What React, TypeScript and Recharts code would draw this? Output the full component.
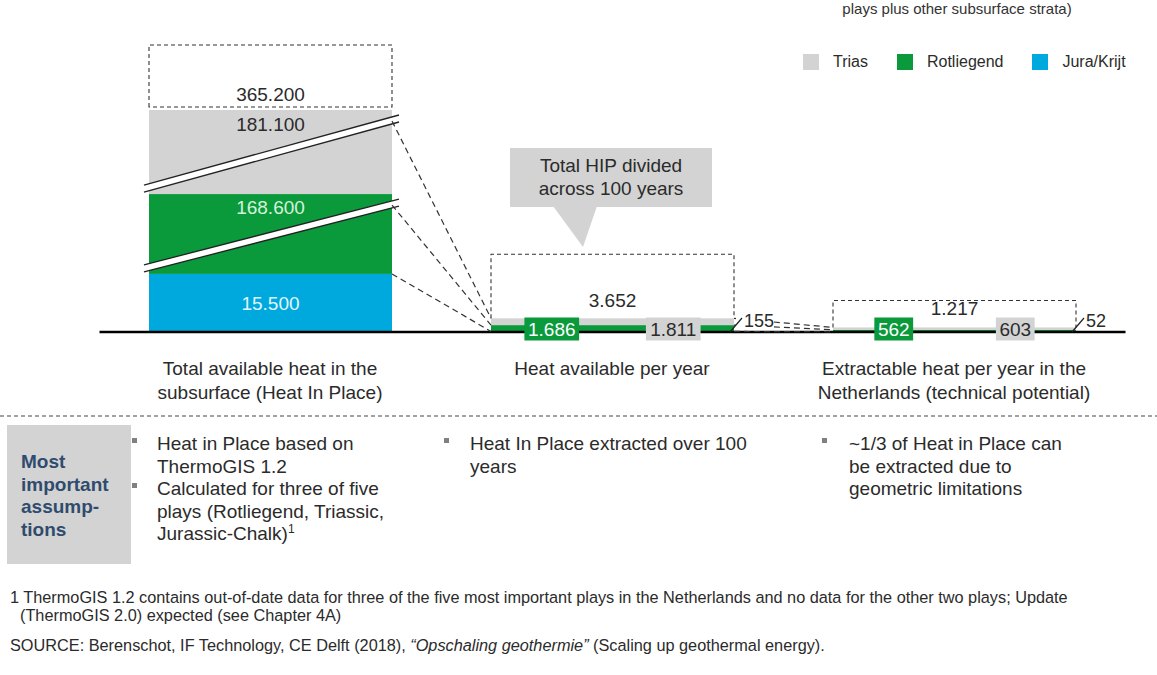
import React from 'react';
import { BarChart, Bar, XAxis, YAxis, Legend } from 'recharts';

// ─── Data (values as printed in the reference) ─────────────

const categories = [
  'Total available heat in the\nsubsurface (Heat In Place)',
  'Heat available per year',
  'Extractable heat per year in the\nNetherlands (technical potential)',
];
const juraKrijt = [15500, 155, 52];
const rotliegend = [168600, 1686, 562];
const trias = [181100, 1811, 603];
const totals = [365200, 3652, 1217];

const data = categories.map((name, i) => ({
  name,
  jura: juraKrijt[i],
  rot: rotliegend[i],
  trias: trias[i],
}));

// ─── Styling ─────────────────────────────

const FONT = '"Liberation Sans", Arial, Helvetica, sans-serif';
const INK = '#2b2b2b';
const GREY = '#d3d3d3';
const GREEN = '#0a9a3c';
const BLUE = '#00a9dd';
const W = 1157;
const H = 675;

// the first bar is drawn with a broken axis: everything above AXIS_BREAK is squeezed
const AXIS_BREAK = 16000;
const BREAK_SHARE = 0.27;

// dashed "total" boxes above each stack (px)
const BOXES = [
  { h: 62, gap: 3, dy: 9 },
  { h: 64, gap: 0, dy: 11 },
  { h: 27, gap: 0, dy: 12 },
];

const fmt = (v: number) => String(v).replace(/\B(?=(\d{3})+(?!\d))/g, '.');

// ─── Broken linear scale (d3-like) ─────────

function brokenScale(breakAt: number, share: number): any {
  let dom: number[] = [0, 1];
  let rng: number[] = [0, 1];
  const s: any = (v: number) => {
    const top = dom[1];
    const t =
      v <= breakAt
        ? (v / breakAt) * share
        : share + ((v - breakAt) / (top - breakAt)) * (1 - share);
    return rng[0] + (rng[1] - rng[0]) * t;
  };
  s.domain = (d?: any[]) => {
    if (d === undefined) return dom;
    dom = d.map(Number);
    return s;
  };
  s.range = (r?: number[]) => {
    if (r === undefined) return rng;
    rng = [...r];
    return s;
  };
  s.copy = () => brokenScale(breakAt, share).domain(dom).range(rng);
  s.ticks = () => [0, breakAt, dom[1]];
  s.tickFormat = () => (v: number) => String(v);
  return s;
}

// ─── Bar shapes ─────────────────────────

type Key = 'jura' | 'rot' | 'trias';
type Rect = { x: number; y: number; w: number; h: number };
const drawn: Record<Key, Rect[]> = { jura: [], rot: [], trias: [] };

function BreakMark({ x, y, w, h }: Rect) {
  const x0 = x - 5;
  const x1 = x + w + 7;
  const yl = y + h - 9;
  const yr = y + 5;
  const t = 7;
  return (
    <g>
      <polygon points={`${x0},${yl} ${x1},${yr} ${x1},${yr + t} ${x0},${yl + t}`} fill="#fff" />
      <line x1={x0} y1={yl} x2={x1} y2={yr} stroke="#222" strokeWidth={1.3} />
      <line x1={x0} y1={yl + t} x2={x1} y2={yr + t} stroke="#222" strokeWidth={1.3} />
    </g>
  );
}

function ValueBox({ cx, cy, text, fill, color }: { cx: number; cy: number; text: string; fill: string; color: string }) {
  const digits = text.replace(/\D/g, '').length;
  const w = digits * 10.6 + (text.length - digits) * 5.3 + 7;
  return (
    <g>
      <rect x={cx - w / 2} y={cy - 11.5} width={w} height={23} fill={fill} />
      <text x={cx} y={cy + 7} textAnchor="middle" fontSize={19} fill={color} fontFamily={FONT}>
        {text}
      </text>
    </g>
  );
}

function Overlay() {
  const keys: Key[] = ['jura', 'rot', 'trias'];
  const items: React.ReactNode[] = [];
  const first = drawn.trias[0];
  const last = drawn.trias[data.length - 1];
  const second = drawn.trias[1];

  // baseline along the category bands (drawn here so the value boxes can sit on top of it)
  if (first && last && second && drawn.jura[0]) {
    const band = second.x - first.x;
    const pad = (band - first.w) / 2;
    const y0 = drawn.jura[0].y + drawn.jura[0].h;
    items.push(
      <line key="axis" x1={first.x - pad} y1={y0} x2={last.x + last.w + pad} y2={y0} stroke="#000" strokeWidth={2.5} />
    );
  }

  // dashed connectors between neighbouring stacks
  for (let i = 1; i < data.length; i++) {
    keys.forEach((k) => {
      const p = drawn[k][i - 1];
      const c = drawn[k][i];
      if (!p || !c) return;
      const broken = i - 1 === 0 && k !== 'jura';
      items.push(
        <line
          key={`c${i}${k}`}
          x1={p.x + p.w}
          y1={p.y + (broken ? 11 : 0)}
          x2={c.x}
          y2={c.y}
          stroke="#333"
          strokeWidth={1.2}
          strokeDasharray="6 4"
        />
      );
    });
  }

  data.forEach((_, i) => {
    const t = drawn.trias[i];
    const g = drawn.rot[i];
    const b = drawn.jura[i];
    if (!t || !g || !b) return;
    const left = t.x;
    const right = t.x + t.w;
    const cx = left + t.w / 2;
    const top = t.y;
    const base = b.y + b.h;
    const bx = BOXES[i];
    const yb = top - bx.gap;
    const yt = yb - bx.h;
    const d = i === 0 ? `M${left},${yb} V${yt} H${right} V${yb} Z` : `M${left},${yb} V${yt} H${right} V${yb}`;

    items.push(
      <g key={`t${i}`}>
        <path d={d} fill="none" stroke="#333" strokeWidth={1.1} strokeDasharray="4 3" />
        <text x={cx} y={top - bx.dy} textAnchor="middle" fontSize={19} fill={INK} fontFamily={FONT}>
          {fmt(totals[i])}
        </text>
      </g>
    );

    if (i === 0) {
      items.push(
        <g key={`l${i}`} fontFamily={FONT} fontSize={19} textAnchor="middle">
          <text x={cx} y={t.y + 21} fill={INK}>{fmt(trias[i])}</text>
          <text x={cx} y={g.y + 20} fill="#d4f2d9">{fmt(rotliegend[i])}</text>
          <text x={cx} y={b.y + b.h / 2 + 7} fill="#e2f5fc">{fmt(juraKrijt[i])}</text>
        </g>
      );
    } else {
      items.push(
        <g key={`l${i}`}>
          <ValueBox cx={left + t.w / 4} cy={base - 3} text={fmt(rotliegend[i])} fill={GREEN} color="#fff" />
          <ValueBox cx={left + (3 * t.w) / 4} cy={base - 3} text={fmt(trias[i])} fill={GREY} color={INK} />
          <rect x={right + 2} y={base - 20} width={38} height={18} fill="#fff" />
          <line x1={right - 4} y1={base} x2={right + 8} y2={base - 14} stroke="#222" strokeWidth={1.2} />
          <text x={right + 10} y={base - 5} fontSize={18} fill={INK} fontFamily={FONT}>
            {fmt(juraKrijt[i])}
          </text>
        </g>
      );
    }
  });

  return <g>{items}</g>;
}

function makeShape(key: Key) {
  return (p: any) => {
    const { x, y, width, height, index, fill } = p;
    const r = { x, y, w: width, h: height };
    drawn[key][index] = r;
    const broken = index === 0 && key !== 'jura';
    return (
      <g>
        <rect x={x} y={y} width={width} height={height} fill={fill} />
        {broken && <BreakMark {...r} />}
        {key === 'trias' && index === data.length - 1 && <Overlay />}
      </g>
    );
  };
}

// ─── Axis tick & legend ─────────────────

function CategoryTick({ x, y, payload }: any) {
  const lines = String(payload.value).split('\n');
  return (
    <text x={x} y={y} textAnchor="middle" fontFamily={FONT} fontSize={19} fill={INK}>
      {lines.map((l, k) => (
        <tspan key={k} x={x} y={y + 43 + k * 24}>
          {l}
        </tspan>
      ))}
    </text>
  );
}

function LegendContent({ payload }: any) {
  const items = [...(payload ?? [])].reverse();
  return (
    <div style={{ display: 'flex', alignItems: 'center', fontFamily: FONT, fontSize: 16, color: INK }}>
      {items.map((it: any) => (
        <div key={it.value} style={{ display: 'flex', alignItems: 'center', marginRight: 29 }}>
          <span style={{ display: 'inline-block', width: 16, height: 16, background: it.color, marginRight: 14 }} />
          {it.value}
        </div>
      ))}
    </div>
  );
}

// ─── Notes below the chart ──────────────

const assumptions = [
  { x: 157, bx: 132, bullets: [['Heat in Place based on', 'ThermoGIS 1.2'], ['Calculated for three of five', 'plays (Rotliegend, Triassic,', 'Jurassic-Chalk)']] },
  { x: 470, bx: 444, bullets: [['Heat In Place extracted over 100', 'years']] },
  { x: 849, bx: 822, bullets: [['~1/3 of Heat in Place can', 'be extracted due to', 'geometric limitations']] },
];

function Notes() {
  return (
    <svg width={W} height={H} style={{ position: 'absolute', left: 0, top: 0, pointerEvents: 'none' }} fontFamily={FONT}>
      <text x={957} y={14} textAnchor="middle" fontSize={15} fill="#333">plays plus other subsurface strata)</text>

      {/* callout */}
      <rect x={510} y={148} width={202} height={59} fill={GREY} />
      <polygon points="553,206 597,206 583,247" fill={GREY} />
      <text x={611} y={172} textAnchor="middle" fontSize={19} fill={INK}>Total HIP divided</text>
      <text x={611} y={195} textAnchor="middle" fontSize={19} fill={INK}>across 100 years</text>

      <line x1={0} y1={416} x2={W} y2={416} stroke="#444" strokeWidth={1} strokeDasharray="4 3" />

      <rect x={7} y={425} width={124} height={139} fill={GREY} />
      {['Most', 'important', 'assump-', 'tions'].map((t, k) => (
        <text key={t} x={21} y={468 + k * 22.5} fontSize={19} fontWeight="bold" fill="#2f4b6e">{t}</text>
      ))}

      {assumptions.map((col, ci) => {
        let line = 0;
        return (
          <g key={ci}>
            {col.bullets.map((b, bi) => {
              const first = line;
              line += b.length;
              return (
                <g key={bi}>
                  <rect x={col.bx} y={450 + first * 22.5 - 12} width={5} height={5} fill="#808080" />
                  {b.map((t, k) => (
                    <text key={k} x={col.x} y={450 + (first + k) * 22.5} fontSize={19} fill={INK}>
                      {t}
                      {ci === 0 && bi === 1 && k === b.length - 1 && (
                        <tspan fontSize={12} dy={-7}>1</tspan>
                      )}
                    </text>
                  ))}
                </g>
              );
            })}
          </g>
        );
      })}

      <g fontSize={16.3} fill={INK}>
        <text x={10} y={603}>
          1 ThermoGIS 1.2 contains out-of-date data for three of the five most important plays in the Netherlands and no data for the other two plays; Update
        </text>
        <text x={20} y={621}>(ThermoGIS 2.0) expected (see Chapter 4A)</text>
        <text x={10} y={651}>
          SOURCE: Berenschot, IF Technology, CE Delft (2018),{' '}
          <tspan fontStyle="italic">“Opschaling geothermie”</tspan> (Scaling up geothermal energy).
        </text>
      </g>
    </svg>
  );
}

// ─── Component ───────────────────────────

export default function App() {
  return (
    <div style={{ position: 'absolute', left: 0, top: 0, width: W, height: H, background: '#fff', overflow: 'hidden' }}>
      <BarChart
        width={W}
        height={H}
        data={data}
        barSize={243}
        margin={{ top: 110, right: 32, bottom: 283, left: 99 }}
        style={{ position: 'absolute', left: 0, top: 0 }}
      >
        <XAxis
          dataKey="name"
          height={60}
          interval={0}
          tickLine={false}
          tickSize={0}
          tickMargin={0}
          tick={<CategoryTick />}
          axisLine={false}
        />
        <YAxis hide type="number" domain={[0, 365200]} scale={brokenScale(AXIS_BREAK, BREAK_SHARE)} />
        <Legend
          layout="vertical"
          align="center"
          verticalAlign="middle"
          content={<LegendContent />}
          wrapperStyle={{ top: 53, left: 803, width: 340 }}
        />
        <Bar dataKey="jura" name="Jura/Krijt" stackId="hip" fill={BLUE} shape={makeShape('jura')} isAnimationActive={false} />
        <Bar dataKey="rot" name="Rotliegend" stackId="hip" fill={GREEN} shape={makeShape('rot')} isAnimationActive={false} />
        <Bar dataKey="trias" name="Trias" stackId="hip" fill={GREY} shape={makeShape('trias')} isAnimationActive={false} />
      </BarChart>
      <Notes />
    </div>
  );
}
